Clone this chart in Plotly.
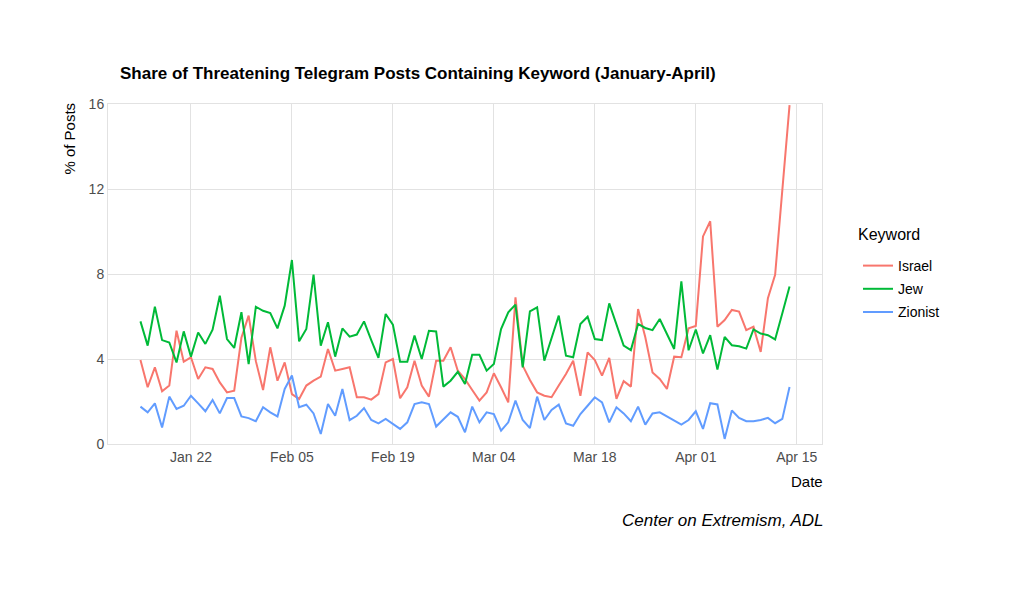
import pandas as pd
import plotly.graph_objects as go

dates = pd.date_range("2024-01-15", periods=91, freq="D")

israel = [3.95, 2.67, 3.61, 2.48, 2.75, 5.33, 3.87, 4.08, 3.06, 3.61,
          3.53, 2.90, 2.43, 2.51, 5.00, 6.04, 3.90, 2.54, 4.55, 2.98,
          3.84, 2.35, 2.12, 2.75, 2.98, 3.17, 4.47, 3.45, 3.53, 3.61,
          2.20, 2.20, 2.09, 2.35, 3.84, 4.00, 2.15, 2.67, 3.92, 2.75,
          2.23, 3.92, 3.92, 4.55, 3.45, 3.05, 2.54, 2.04, 2.43, 3.33,
          2.67, 1.96, 6.90, 3.69, 3.01, 2.43, 2.27, 2.20, 2.75, 3.29,
          3.92, 2.27, 4.31, 3.95, 3.22, 4.05, 2.12, 2.96, 2.70, 6.35,
          5.02, 3.37, 3.06, 2.59, 4.11, 4.08, 5.44, 5.55, 9.77, 10.48,
          5.52, 5.83, 6.31, 6.23, 5.36, 5.52, 4.33, 6.86, 7.96, 12.00,
          15.95]

jew = [5.77, 4.63, 6.46, 4.89, 4.78, 3.84, 5.30, 4.11, 5.25, 4.71,
       5.38, 6.98, 4.94, 4.52, 6.20, 3.76, 6.46, 6.27, 6.16, 5.44,
       6.51, 8.66, 4.83, 5.41, 7.97, 4.63, 5.73, 4.11, 5.44, 5.05,
       5.15, 5.77, 4.89, 4.05, 6.12, 5.62, 3.87, 3.87, 5.10, 4.00,
       5.33, 5.30, 2.70, 2.98, 3.40, 2.82, 4.20, 4.20, 3.45, 3.76,
       5.41, 6.20, 6.56, 3.61, 6.24, 6.43, 3.92, 4.94, 6.04, 4.16,
       4.08, 5.65, 5.99, 4.94, 4.89, 6.62, 5.65, 4.63, 4.42, 5.65,
       5.46, 5.36, 5.88, 5.18, 4.47, 7.65, 4.41, 5.39, 4.26, 5.12,
       3.50, 5.04, 4.65, 4.60, 4.49, 5.39, 5.20, 5.12, 4.92, 6.15,
       7.41]

zionist = [1.76, 1.49, 1.91, 0.78, 2.23, 1.65, 1.80, 2.27, 1.91, 1.54,
           2.07, 1.44, 2.16, 2.16, 1.30, 1.22, 1.07, 1.73, 1.49, 1.30,
           2.59, 3.22, 1.73, 1.85, 1.44, 0.47, 1.88, 1.33, 2.59, 1.12,
           1.33, 1.69, 1.13, 0.97, 1.18, 0.94, 0.71, 1.02, 1.88, 1.96,
           1.88, 0.82, 1.18, 1.49, 1.28, 0.55, 1.76, 1.02, 1.49, 1.41,
           0.63, 1.02, 2.04, 1.13, 0.75, 2.23, 1.13, 1.60, 1.85, 0.97,
           0.86, 1.41, 1.80, 2.20, 1.96, 1.02, 1.73, 1.44, 1.07, 1.76,
           0.91, 1.44, 1.49, 1.30, 1.07, 0.91, 1.13, 1.54, 0.71, 1.92,
           1.86, 0.24, 1.58, 1.23, 1.07, 1.07, 1.13, 1.23, 0.98, 1.18,
           2.68]

series_names = ["Israel", "Jew", "Zionist"]
series_colors = ["#F8766D", "#00BA38", "#619CFF"]
x_tick_dates = ["2024-01-22", "2024-02-05", "2024-02-19", "2024-03-04",
                "2024-03-18", "2024-04-01", "2024-04-15"]
x_tick_labels = ["Jan 22", "Feb 05", "Feb 19", "Mar 04", "Mar 18", "Apr 01", "Apr 15"]
y_ticks = [0, 4, 8, 12, 16]

FONT = "Liberation Sans, Arial, Helvetica, sans-serif"
GRID = "#e2e2e2"

fig = go.Figure()
for name, vals, col in zip(series_names, [israel, jew, zionist], series_colors):
    fig.add_trace(go.Scatter(x=dates, y=vals, mode="lines", name=name,
                             legendgroup=name,
                             line=dict(color=col, width=2)))

x0 = dates[0] - pd.Timedelta(hours=4.5 * 24)
x1 = dates[-1] + pd.Timedelta(hours=4.5 * 24)

fig.update_layout(
    width=1020, height=595,
    margin=dict(l=108, r=198, t=104, b=151),
    paper_bgcolor="white", plot_bgcolor="white",
    font=dict(family=FONT, color="#000000"),
    title=dict(text="<b>Share of Threatening Telegram Posts Containing Keyword (January-April)</b>",
               x=120 / 1020, xref="container", xanchor="left",
               y=1 - 73 / 595, yref="container", yanchor="middle",
               font=dict(size=17, color="#000000", family=FONT)),
    xaxis=dict(range=[x0, x1], tickvals=pd.to_datetime(x_tick_dates), ticktext=x_tick_labels,
               showgrid=True, gridcolor=GRID, gridwidth=1, zeroline=False,
               showline=True, linecolor=GRID, linewidth=1, mirror=True,
               ticks="", tickfont=dict(size=14, color="#4d4d4d")),
    yaxis=dict(range=[0, 16], tickvals=y_ticks, ticktext=[str(v) for v in y_ticks],
               showgrid=True, gridcolor=GRID, gridwidth=1, zeroline=False,
               showline=True, linecolor=GRID, linewidth=1, mirror=True,
               ticks="", tickfont=dict(size=14, color="#4d4d4d")),
    legend=dict(x=(858 - 108) / 714, xanchor="left",
                y=(444 - 250) / 340, yanchor="top",
                font=dict(size=14, color="#000000"), bgcolor="rgba(0,0,0,0)",
                tracegroupgap=2),
    annotations=[
        dict(text="Keyword", x=(856 - 108) / 714, xref="paper", xanchor="left",
             y=(444 - 234) / 340, yref="paper", yanchor="middle",
             showarrow=False, font=dict(size=16, color="#000000")),
        dict(text="Date", x=1.004, xref="paper", xanchor="right",
             y=(444 - 481) / 340, yref="paper", yanchor="middle",
             showarrow=False, font=dict(size=15, color="#000000")),
        dict(text="<i>Center on Extremism, ADL</i>", x=1.005, xref="paper", xanchor="right",
             y=(444 - 520) / 340, yref="paper", yanchor="middle",
             showarrow=False, font=dict(size=17, color="#000000")),
        dict(text="% of Posts", textangle=-90, x=(70 - 108) / 714, xref="paper", xanchor="center",
             y=1.01, yref="paper", yanchor="top",
             showarrow=False, font=dict(size=15, color="#000000")),
    ],
)

fig.write_html("out.html")
